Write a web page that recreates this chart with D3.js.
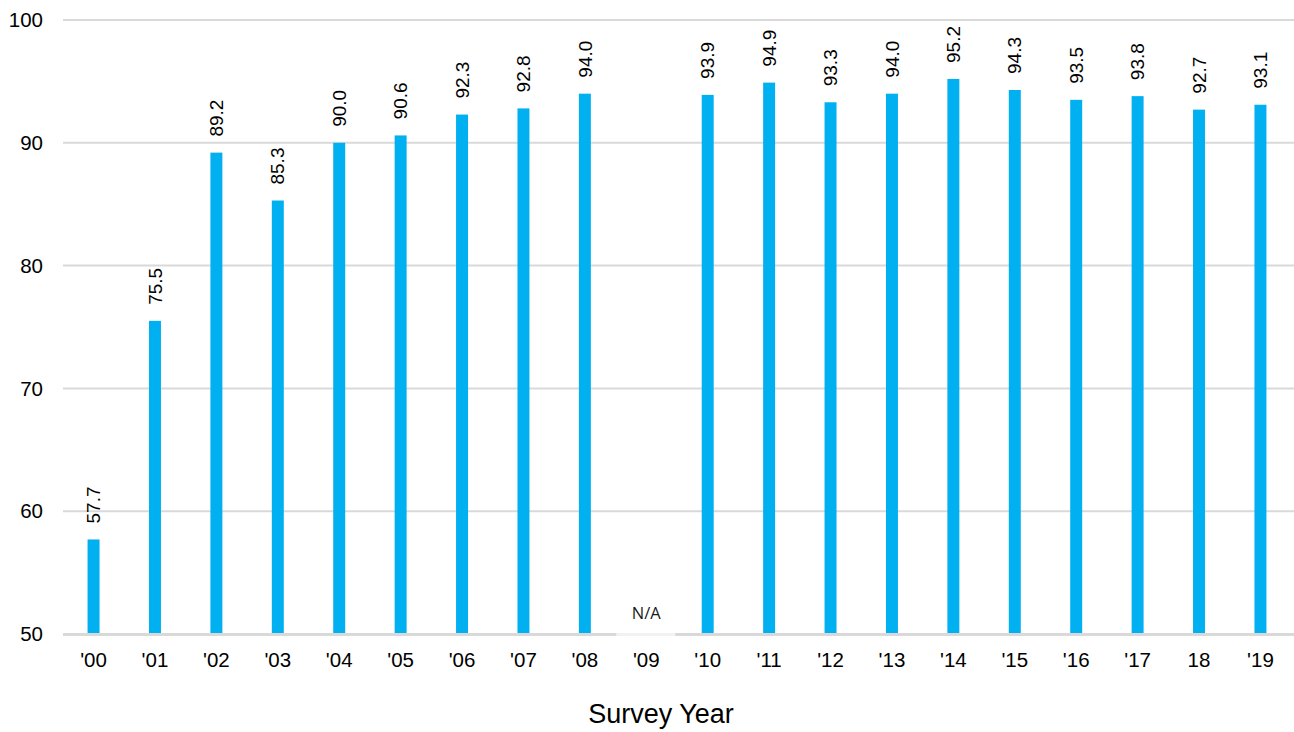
<!DOCTYPE html>
<html>
<head>
<meta charset="utf-8">
<script src="https://cdn.jsdelivr.net/npm/d3@7"></script>
<style>
  html, body { margin: 0; padding: 0; background: #fff; }
  svg { display: block; }
</style>
</head>
<body>
<svg id="chart" width="1294" height="732"></svg>
<script>
const categories = ["'00","'01","'02","'03","'04","'05","'06","'07","'08","'09","'10","'11","'12","'13","'14","'15","'16","'17","18","'19"];
const values = [57.7, 75.5, 89.2, 85.3, 90.0, 90.6, 92.3, 92.8, 94.0, null, 93.9, 94.9, 93.3, 94.0, 95.2, 94.3, 93.5, 93.8, 92.7, 93.1];
const yTicks = [50, 60, 70, 80, 90, 100];
const missingLabel = "N/A";
const xTitle = "Survey Year";

(function () {
const svg = d3.select("#chart");
const mLeft = 63, mRight = 1291, mTop = 20, mBottom = 634;

const x = d3.scaleBand().domain(categories).range([mLeft, mRight]).paddingInner(0.805).paddingOuter(0.4);
const y = d3.scaleLinear().domain([50, 100]).range([mBottom, mTop]);

// gridlines
svg.append("g").selectAll("line").data(yTicks.filter(d => d !== 50)).join("line")
  .attr("x1", mLeft).attr("x2", 1294)
  .attr("y1", d => y(d)).attr("y2", d => y(d))
  .attr("stroke", "#d9d9d9").attr("stroke-width", 2);

// y tick labels
svg.append("g").selectAll("text").data(yTicks).join("text")
  .attr("x", 43).attr("y", d => y(d)).attr("dy", "0.35em")
  .attr("text-anchor", "end")
  .attr("font-family", "Liberation Sans, Arial, sans-serif")
  .attr("font-size", 20.5).attr("fill", "#000")
  .text(d => d);

const data = categories.map((c, i) => ({ c, v: values[i] }));

// bars
svg.append("g").selectAll("rect").data(data.filter(d => d.v != null)).join("rect")
  .attr("x", d => x(d.c)).attr("width", x.bandwidth())
  .attr("y", d => y(d.v)).attr("height", d => y(50) - y(d.v))
  .attr("fill", "#00b0f0");

// axis line
svg.append("line")
  .attr("x1", mLeft).attr("x2", 1294).attr("y1", mBottom + 0.5).attr("y2", mBottom + 0.5)
  .attr("stroke", "#d9d9d9").attr("stroke-width", 3);

// value labels
svg.append("g").selectAll("text").data(data.filter(d => d.v != null)).join("text")
  .attr("transform", d => `translate(${x(d.c) + x.bandwidth() / 2},${y(d.v) - 16}) rotate(-90)`)
  .attr("dy", "0.35em")
  .attr("text-anchor", "start")
  .attr("font-family", "Liberation Sans, Arial, sans-serif")
  .attr("font-size", 19).attr("fill", "#000")
  .text(d => d.v.toFixed(1));

// N/A label for missing
const miss = data.filter(d => d.v == null);
const mg = svg.append("g").selectAll("g").data(miss).join("g");
mg.append("rect")
  .attr("x", d => x(d.c) + x.bandwidth() / 2 - 30).attr("width", 59)
  .attr("y", 598).attr("height", 38)
  .attr("fill", "#fff").attr("opacity", 0.65);
mg.append("text")
  .attr("x", d => x(d.c) + x.bandwidth() / 2).attr("y", 619)
  .attr("text-anchor", "middle")
  .attr("font-family", "Open Sans, Noto Sans, sans-serif")
  .attr("font-size", 16.5).attr("fill", "#1a1a1a")
  .text(missingLabel);

// x tick labels
svg.append("g").selectAll("text").data(categories).join("text")
  .attr("x", d => x(d) + x.bandwidth() / 2).attr("y", 667)
  .attr("text-anchor", "middle")
  .attr("font-family", "Liberation Sans, Arial, sans-serif")
  .attr("font-size", 20.5).attr("fill", "#000")
  .text(d => d);

// x title
svg.append("text")
  .attr("x", 661).attr("y", 723)
  .attr("text-anchor", "middle")
  .attr("font-family", "Liberation Sans, Arial, sans-serif")
  .attr("font-size", 27).attr("fill", "#000")
  .text(xTitle);
})();
</script>
</body>
</html>
